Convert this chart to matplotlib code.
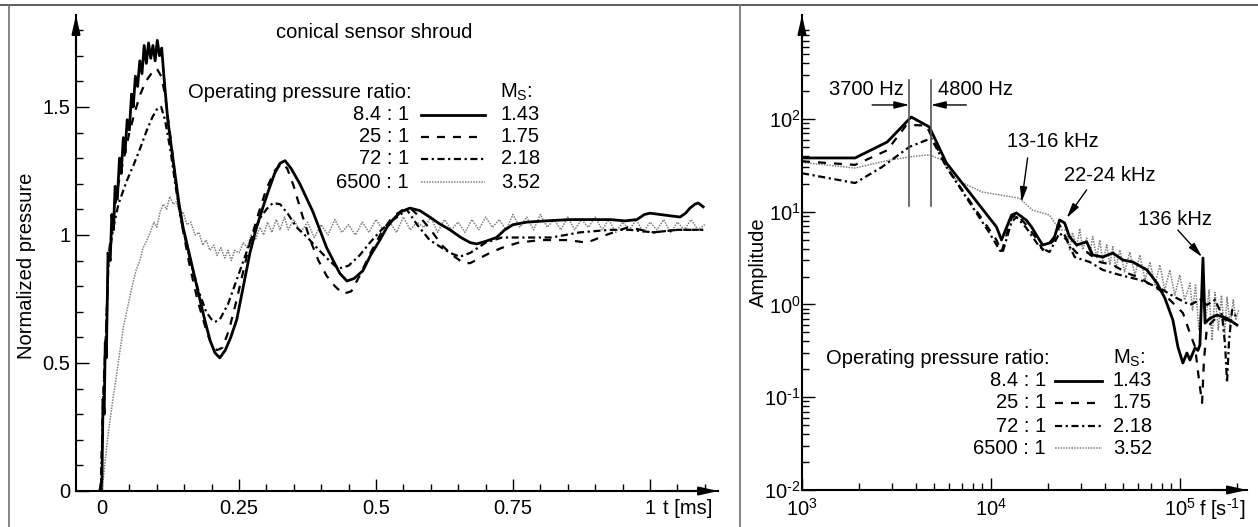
import numpy as np
import matplotlib
matplotlib.use("Agg")
import matplotlib.pyplot as plt
from matplotlib.lines import Line2D
from matplotlib.ticker import FixedLocator, LogLocator, NullFormatter, FuncFormatter

plt.rcParams['font.family'] = ['Liberation Sans', 'DejaVu Sans']
plt.rcParams['mathtext.fontset'] = 'custom'
plt.rcParams['mathtext.rm'] = 'Liberation Sans'
plt.rcParams['mathtext.default'] = 'regular'
plt.rcParams['axes.unicode_minus'] = False

# ---------------- datos: presion normalizada (panel izquierdo) ----------------
ratios = ['8.4 : 1', '25 : 1', '72 : 1', '6500 : 1']
mach = ['1.43', '1.75', '2.18', '3.52']

t_84 = [-0.004, 0.0, 0.002, 0.004, 0.006, 0.008, 0.011, 0.015, 0.018, 0.021, 0.024, 0.028, 0.032,
        0.035, 0.039, 0.042, 0.046, 0.050, 0.054, 0.057, 0.061, 0.065, 0.069, 0.073, 0.077, 0.081,
        0.085, 0.089, 0.093, 0.097, 0.101, 0.105, 0.109, 0.113, 0.12, 0.13, 0.14, 0.148, 0.16, 0.173,
        0.185, 0.197, 0.206, 0.215, 0.225, 0.235, 0.246, 0.258, 0.27, 0.282, 0.294, 0.305, 0.315,
        0.325, 0.334, 0.345, 0.361, 0.385, 0.41, 0.434, 0.447, 0.46, 0.476, 0.49, 0.507, 0.52, 0.531,
        0.545, 0.562, 0.58, 0.598, 0.615, 0.635, 0.655, 0.672, 0.684, 0.70, 0.72, 0.735, 0.75, 0.775,
        0.81, 0.854, 0.89, 0.927, 0.955, 0.976, 0.99, 1.0, 1.018, 1.036, 1.055, 1.065, 1.073, 1.082,
        1.088, 1.097]
p_84 = [0.0, 0.05, 0.36, 0.30, 0.58, 0.52, 0.93, 0.90, 1.08, 1.02, 1.19, 1.14, 1.30,
        1.24, 1.38, 1.32, 1.45, 1.41, 1.55, 1.50, 1.62, 1.58, 1.68, 1.63, 1.74, 1.67,
        1.75, 1.69, 1.74, 1.68, 1.76, 1.70, 1.73, 1.62, 1.45, 1.29, 1.13, 1.03, 0.92, 0.80,
        0.69, 0.59, 0.54, 0.52, 0.55, 0.60, 0.67, 0.80, 0.93, 1.03, 1.11, 1.18, 1.24,
        1.28, 1.29, 1.26, 1.20, 1.09, 0.95, 0.85, 0.82, 0.83, 0.86, 0.92, 0.98, 1.03, 1.06,
        1.09, 1.105, 1.095, 1.07, 1.045, 1.02, 0.99, 0.97, 0.965, 0.975, 0.99, 1.02, 1.04, 1.05,
        1.055, 1.06, 1.06, 1.06, 1.055, 1.06, 1.08, 1.085, 1.08, 1.075, 1.07, 1.085, 1.105, 1.12,
        1.125, 1.11]

t_25 = [-0.002, 0.002, 0.008, 0.012, 0.02, 0.03, 0.04, 0.05, 0.06, 0.07, 0.08, 0.09, 0.1, 0.108,
        0.115, 0.125, 0.135, 0.145, 0.16, 0.175, 0.19, 0.2, 0.21, 0.22, 0.232, 0.245, 0.258, 0.27,
        0.285, 0.3, 0.315, 0.328, 0.338, 0.35, 0.365, 0.38, 0.395, 0.41, 0.425, 0.44, 0.455, 0.47,
        0.49, 0.51, 0.53, 0.55, 0.565, 0.58, 0.6, 0.62, 0.64, 0.66, 0.672, 0.69, 0.708, 0.73, 0.76,
        0.8, 0.85, 0.885, 0.92, 0.96, 1.006, 1.05, 1.097]
p_25 = [0.0, 0.35, 0.65, 0.92, 1.05, 1.20, 1.30, 1.40, 1.48, 1.55, 1.60, 1.63, 1.65, 1.62,
        1.55, 1.38, 1.20, 1.05, 0.88, 0.74, 0.63, 0.57, 0.55, 0.56, 0.63, 0.74, 0.86, 0.97,
        1.08, 1.18, 1.25, 1.28, 1.26, 1.19, 1.08, 0.98, 0.90, 0.84, 0.80, 0.77, 0.78, 0.84,
        0.93, 1.01, 1.07, 1.10, 1.10, 1.07, 1.02, 0.96, 0.92, 0.89, 0.89, 0.91, 0.93, 0.95, 0.97,
        0.98, 0.98, 0.97, 1.0, 1.03, 1.01, 1.02, 1.02]

t_72 = [-0.002, 0.002, 0.008, 0.012, 0.02, 0.03, 0.045, 0.057, 0.07, 0.082, 0.092, 0.1, 0.108,
        0.115, 0.125, 0.135, 0.145, 0.16, 0.175, 0.19, 0.2, 0.206, 0.215, 0.23, 0.245, 0.26, 0.275,
        0.29, 0.3, 0.312, 0.325, 0.34, 0.355, 0.375, 0.392, 0.41, 0.425, 0.434, 0.45, 0.47, 0.489,
        0.51, 0.526, 0.545, 0.556, 0.575, 0.598, 0.62, 0.635, 0.653, 0.672, 0.7, 0.73, 0.78, 0.82,
        0.872, 0.927, 0.963, 1.006, 1.05, 1.097]
p_72 = [0.0, 0.35, 0.65, 0.90, 1.02, 1.12, 1.21, 1.27, 1.34, 1.41, 1.46, 1.49, 1.50,
        1.45, 1.33, 1.18, 1.05, 0.91, 0.79, 0.70, 0.67, 0.66, 0.67, 0.73, 0.82, 0.91, 1.0,
        1.07, 1.10, 1.125, 1.12, 1.08, 1.03, 0.99, 0.95, 0.91, 0.88, 0.87, 0.88, 0.92, 0.97,
        1.02, 1.05, 1.08, 1.10, 1.04, 0.98, 0.95, 0.93, 0.915, 0.93, 0.97, 0.99, 0.99, 0.99,
        1.01, 1.02, 1.02, 1.01, 1.02, 1.02]

t_6500 = [0.0, 0.005, 0.01, 0.015, 0.02, 0.027, 0.033, 0.039, 0.047, 0.055, 0.062, 0.069, 0.075,
          0.08, 0.088, 0.095, 0.1, 0.106, 0.112, 0.118, 0.124, 0.13, 0.136, 0.142, 0.148, 0.155,
          0.162, 0.17, 0.177, 0.184, 0.19, 0.197, 0.204, 0.21, 0.217, 0.224, 0.23, 0.236, 0.242,
          0.25, 0.258, 0.265, 0.272, 0.28, 0.288, 0.295, 0.302, 0.31, 0.318, 0.325, 0.333, 0.34,
          0.35, 0.3625, 0.375, 0.3875, 0.40, 0.4125, 0.425, 0.4375, 0.45, 0.4625, 0.475, 0.4875,
          0.50, 0.5125, 0.525, 0.5375, 0.55, 0.5625, 0.575, 0.5875, 0.60, 0.6125, 0.625, 0.6375,
          0.65, 0.6625, 0.675, 0.6875, 0.70, 0.7125, 0.725, 0.7375, 0.75, 0.7625, 0.775, 0.7875,
          0.80, 0.8125, 0.825, 0.8375, 0.85, 0.8625, 0.875, 0.8875, 0.90, 0.9125, 0.925, 0.9375,
          0.95, 0.9625, 0.975, 0.9875, 1.00, 1.0125, 1.025, 1.0375, 1.05, 1.0625, 1.075, 1.0875, 1.10]
p_6500 = [0.0, 0.10, 0.20, 0.28, 0.36, 0.46, 0.55, 0.64, 0.72, 0.80, 0.86, 0.90, 0.95,
          0.97, 1.01, 1.05, 1.03, 1.09, 1.12, 1.10, 1.15, 1.12, 1.13, 1.08, 1.09, 1.04,
          1.05, 1.00, 1.01, 0.96, 0.98, 0.94, 0.96, 0.92, 0.95, 0.91, 0.94, 0.90, 0.94,
          0.93, 0.97, 0.95, 1.00, 0.98, 1.03, 1.00, 1.05, 1.01, 1.06, 1.02, 1.07, 1.02,
          1.06, 1.01, 1.05, 0.99, 1.04, 1.00, 1.06, 1.01, 1.04, 1.00, 1.05, 1.01,
          1.06, 1.02, 1.05, 1.01, 1.07, 1.02, 1.05, 1.03, 1.07, 1.01, 1.06, 1.02,
          1.05, 1.01, 1.06, 1.02, 1.07, 1.03, 1.06, 1.02, 1.08, 1.03, 1.07, 1.02,
          1.08, 1.03, 1.06, 1.02, 1.07, 1.02, 1.06, 1.03, 1.07, 1.02, 1.06, 1.01,
          1.05, 1.02, 1.06, 1.01, 1.05, 1.02, 1.06, 1.01, 1.05, 1.02, 1.06, 1.02, 1.04]

# ---------------- datos: espectro (panel derecho) ----------------
f_84 = [1000, 1910, 2825, 3785, 4720, 5810, 10700, 11370, 12850, 13650, 15400, 16400, 17650, 18770,
        20420, 21700, 23080, 24540, 26070, 28430, 30570, 32120, 34550, 39040, 44140, 49890, 56370,
        66850, 75550, 83250, 91800, 97600, 103700, 108900, 113000, 120200, 124500, 127600, 132400,
        135800, 144300, 157100, 177500, 200500]
a_84 = [38, 38, 56.5, 105, 82, 33.6, 6.85, 4.96, 9.2, 9.7, 8.1, 6.85, 5.35, 4.38,
        4.6, 5.35, 8.15, 7.56, 5.35, 4.38, 4.6, 4.72, 3.42, 3.25, 3.59, 3.02, 2.87,
        2.36, 1.71, 1.17, 0.68, 0.348, 0.234, 0.30, 0.252, 0.34, 0.32, 0.366, 3.17,
        0.63, 0.71, 0.77, 0.71, 0.60]

f_25 = [1000, 1910, 2825, 3565, 3830, 4550, 5810, 10700, 11370, 12850, 13650, 15400, 17650, 18770,
        21700, 23080, 26070, 28430, 32120, 37700, 44140, 52400, 61400, 78300, 91800, 103700, 113000,
        120200, 126200, 131000, 134000, 139000, 157100, 177500, 200500]
a_25 = [35, 32, 46, 86, 86, 85, 30.4, 4.96, 3.68, 8.57, 9.4, 7.2, 4.96, 3.87,
        4.96, 7.2, 4.38, 3.59, 3.68, 2.87, 2.67, 2.19, 1.93, 1.43, 1.04, 0.81, 0.49,
        0.35, 0.153, 0.087, 0.25, 0.57, 0.73, 0.68, 0.63]

f_72 = [1000, 1910, 2655, 3700, 4830, 5810, 9820, 11100, 11500, 12850, 13650, 15400, 18070, 20420,
        23080, 25150, 27730, 33330, 39040, 48100, 61400, 78300, 94000, 113000, 127600, 139000,
        153400, 167000, 173500, 177500, 182000, 188700, 200500]
a_72 = [26, 20.4, 30.4, 50, 62, 30.4, 5.9, 3.87, 3.59, 7.76, 8.78, 6.68, 4.17, 3.68,
        5.9, 4.96, 3.25, 2.87, 2.36, 2.08, 1.84, 1.5, 1.2, 0.99, 1.12, 0.99,
        1.12, 0.77, 0.366, 0.143, 0.41, 0.87, 0.71]

f_6500 = [1000, 1910, 2895, 3700, 4720, 5530, 6560, 9010, 13000, 14150, 16600, 20420, 23080,
          25150, 26070, 27000, 28430, 29500, 30570, 32120, 33330, 34550, 36300, 37700, 39040,
          41000, 42600, 44140, 45800, 48100, 51000, 54300, 57800, 61400, 65400, 69400, 73800,
          78300, 83200, 88400, 94000, 99800, 106000, 113000, 116600, 121000, 126000, 132400,
          137000, 142700, 148000, 153400, 159500, 166000, 172500, 177500, 184700, 191500,
          197600, 204600]
a_6500 = [34, 29.6, 36, 39, 41, 36, 22, 16.3, 14.4, 14, 10.4, 9.2, 6.35,
          6.35, 3.87, 6.0, 4.2, 6.6, 3.9, 5.2, 3.4, 5.4, 3.2, 4.96, 2.87,
          4.4, 2.67, 4.2, 2.47, 3.87, 2.24, 3.68, 2.08, 3.42, 1.84, 2.87, 1.62,
          2.67, 1.43, 2.36, 1.26, 2.08, 1.12, 1.7, 0.87, 1.62, 0.53, 1.26,
          0.68, 1.43, 0.41, 1.35, 0.53, 1.26, 0.47, 1.2, 0.6, 1.12,
          0.68, 0.87]

x_major = [0, 0.25, 0.5, 0.75, 1]
x_labels = ['0', '0.25', '0.5', '0.75', '1']
y_major = [0, 0.5, 1, 1.5]
y_labels = ['0', '0.5', '1', '1.5']

# estilos de linea
estilos = [dict(color='black', lw=2.0, ls='-'),
           dict(color='black', lw=1.6, ls=(0, (3.6, 3.6))),
           dict(color='black', lw=1.6, ls=(0, (3.2, 1.6, 1.0, 1.6))),
           dict(color='#808080', lw=1.1, ls=(0, (1, 0.8)))]

FS = 14.5
W, H = 1258, 527


def fx(x):
    return x / W


def fy(y):
    return 1 - y / H


def pot10(v, pos=None):
    n = int(round(np.log10(v)))
    if n < 0:
        return '$10^{\\text{-}%d}$' % (-n)
    return '$10^{%d}$' % n


fig = plt.figure(figsize=(12.58, 5.27), dpi=100)

# marco (celdas de tabla)
fig.add_artist(Line2D([0, 1], [fy(5), fy(5)], transform=fig.transFigure, color='#505050', lw=1.3))
fig.add_artist(Line2D([fx(9), fx(9)], [0, fy(5)], transform=fig.transFigure, color='#707070', lw=1.2))
fig.add_artist(Line2D([fx(740), fx(740)], [0, fy(5)], transform=fig.transFigure, color='#707070', lw=1.2))


def flechas(ax):
    ax.annotate('', xy=(1, 0), xytext=(0.92, 0), xycoords='axes fraction',
                arrowprops=dict(arrowstyle='-|>,head_length=1.1,head_width=0.25', color='black',
                                lw=1.5, shrinkA=0, shrinkB=0), annotation_clip=False)
    ax.annotate('', xy=(0, 1), xytext=(0, 0.92), xycoords='axes fraction',
                arrowprops=dict(arrowstyle='-|>,head_length=1.1,head_width=0.25', color='black',
                                lw=1.5, shrinkA=0, shrinkB=0), annotation_clip=False)


def ejes(ax):
    for s in ['top', 'right']:
        ax.spines[s].set_visible(False)
    for s in ['left', 'bottom']:
        ax.spines[s].set_linewidth(1.5)
    ax.tick_params(which='both', direction='in', width=1.0, labelsize=FS)
    ax.tick_params(which='major', length=9)
    ax.tick_params(which='minor', length=5)
    ax.set_facecolor('none')


# ---------------- panel izquierdo ----------------
ax1 = fig.add_axes([fx(76), fy(491), fx(718) - fx(76), fy(15) - fy(491)])
ejes(ax1)
series_t = [(t_84, p_84), (t_25, p_25), (t_72, p_72), (t_6500, p_6500)]
for i in [3, 2, 1, 0]:
    ax1.plot(series_t[i][0], series_t[i][1], **estilos[i])
ax1.set_xlim(-0.0474, 1.1241)
ax1.set_ylim(0, 1.859)
ax1.xaxis.set_major_locator(FixedLocator(x_major))
ax1.set_xticklabels(x_labels)
ax1.xaxis.set_minor_locator(FixedLocator([v / 20 for v in range(0, 23)]))
ax1.yaxis.set_major_locator(FixedLocator(y_major))
ax1.set_yticklabels(y_labels)
ax1.yaxis.set_minor_locator(FixedLocator([v / 10 for v in range(0, 19)]))
ax1.tick_params(axis='x', pad=6)
ax1.tick_params(axis='y', pad=4)
flechas(ax1)

fig.text(fx(27), fy(266), 'Normalized pressure', rotation=90, fontsize=FS, ha='center', va='center')
fig.text(fx(688), fy(509), 't [ms]', fontsize=FS, ha='center', va='center')
fig.text(fx(374), fy(33), 'conical sensor shroud', fontsize=FS, ha='center', va='center')

# leyenda izquierda
fig.text(fx(412), fy(92), 'Operating pressure ratio:', fontsize=FS, ha='right', va='center')
fig.text(fx(500), fy(92), 'M$_S$:', fontsize=FS, ha='left', va='center')
for i, yy in enumerate([115, 137, 159, 182]):
    fig.text(fx(409), fy(yy), ratios[i], fontsize=FS, ha='right', va='center')
    fig.add_artist(Line2D([fx(421), fx(485)], [fy(yy), fy(yy)], transform=fig.transFigure, **estilos[i]))
    fig.text(fx(501), fy(yy), mach[i], fontsize=FS, ha='left', va='center')

# ---------------- panel derecho ----------------
ax2 = fig.add_axes([fx(802), fy(490), fx(1247) - fx(802), fy(15) - fy(490)])
ejes(ax2)
ax2.set_xscale('log')
ax2.set_yscale('log')
series_f = [(f_84, a_84), (f_25, a_25), (f_72, a_72), (f_6500, a_6500)]
for i in [3, 2, 1, 0]:
    ax2.plot(series_f[i][0], series_f[i][1], **estilos[i])
ax2.set_xlim(1e3, 10 ** 5.355)
ax2.set_ylim(1e-2, 10 ** 3.121)
ax2.xaxis.set_major_locator(FixedLocator([1e3, 1e4, 1e5]))
ax2.yaxis.set_major_locator(FixedLocator([1e-2, 1e-1, 1e0, 1e1, 1e2]))
ax2.xaxis.set_minor_locator(LogLocator(base=10, subs=np.arange(2, 10)))
ax2.yaxis.set_minor_locator(LogLocator(base=10, subs=np.arange(2, 10)))
ax2.xaxis.set_minor_formatter(NullFormatter())
ax2.yaxis.set_minor_formatter(NullFormatter())
ax2.xaxis.set_major_formatter(FuncFormatter(pot10))
ax2.yaxis.set_major_formatter(FuncFormatter(pot10))
ax2.tick_params(axis='x', pad=6)
ax2.tick_params(axis='y', pad=1)
flechas(ax2)

fig.text(fx(758), fy(262), 'Amplitude', rotation=90, fontsize=FS, ha='center', va='center')
fig.text(fx(1199), fy(509), 'f [s$^{\\text{-}1}$]', fontsize=FS, ha='left', va='center')

# anotaciones de frecuencia
for fv in [3700, 4800]:
    ax2.plot([fv, fv], [11.5, 263], color='#555555', lw=1.2)
akw = dict(arrowstyle='-|>,head_length=0.9,head_width=0.22', color='black', lw=1.0,
           shrinkA=0, shrinkB=0)
ax2.annotate('', xy=(3700, 141.6), xytext=(2350, 141.6), arrowprops=akw)
ax2.annotate('', xy=(4800, 141.6), xytext=(7410, 141.6), arrowprops=akw)
ax2.text(3470, 210, '3700 Hz', fontsize=FS, ha='right', va='center')
ax2.text(5266, 210, '4800 Hz', fontsize=FS, ha='left', va='center')
ax2.text(21200, 56.5, '13-16 kHz', fontsize=FS, ha='center', va='center')
ax2.annotate('', xy=(14520, 12.7), xytext=(15630, 38), arrowprops=akw)
ax2.text(42600, 24.3, '22-24 kHz', fontsize=FS, ha='center', va='center')
ax2.annotate('', xy=(25150, 8.56), xytext=(32100, 17.2), arrowprops=akw)
ax2.text(94000, 8.15, '136 kHz', fontsize=FS, ha='center', va='center')
ax2.annotate('', xy=(131000, 3.25), xytext=(97500, 6.35), arrowprops=akw)

# leyenda derecha
fig.text(fx(826), fy(358), 'Operating pressure ratio:', fontsize=FS, ha='left', va='center')
fig.text(fx(1113), fy(358), 'M$_S$:', fontsize=FS, ha='left', va='center')
for i, yy in enumerate([381, 403, 426, 448]):
    fig.text(fx(1046), fy(yy), ratios[i], fontsize=FS, ha='right', va='center')
    fig.add_artist(Line2D([fx(1055), fx(1102)], [fy(yy), fy(yy)], transform=fig.transFigure, **estilos[i]))
    fig.text(fx(1113), fy(yy), mach[i], fontsize=FS, ha='left', va='center')

fig.savefig('out.png', dpi=100)
